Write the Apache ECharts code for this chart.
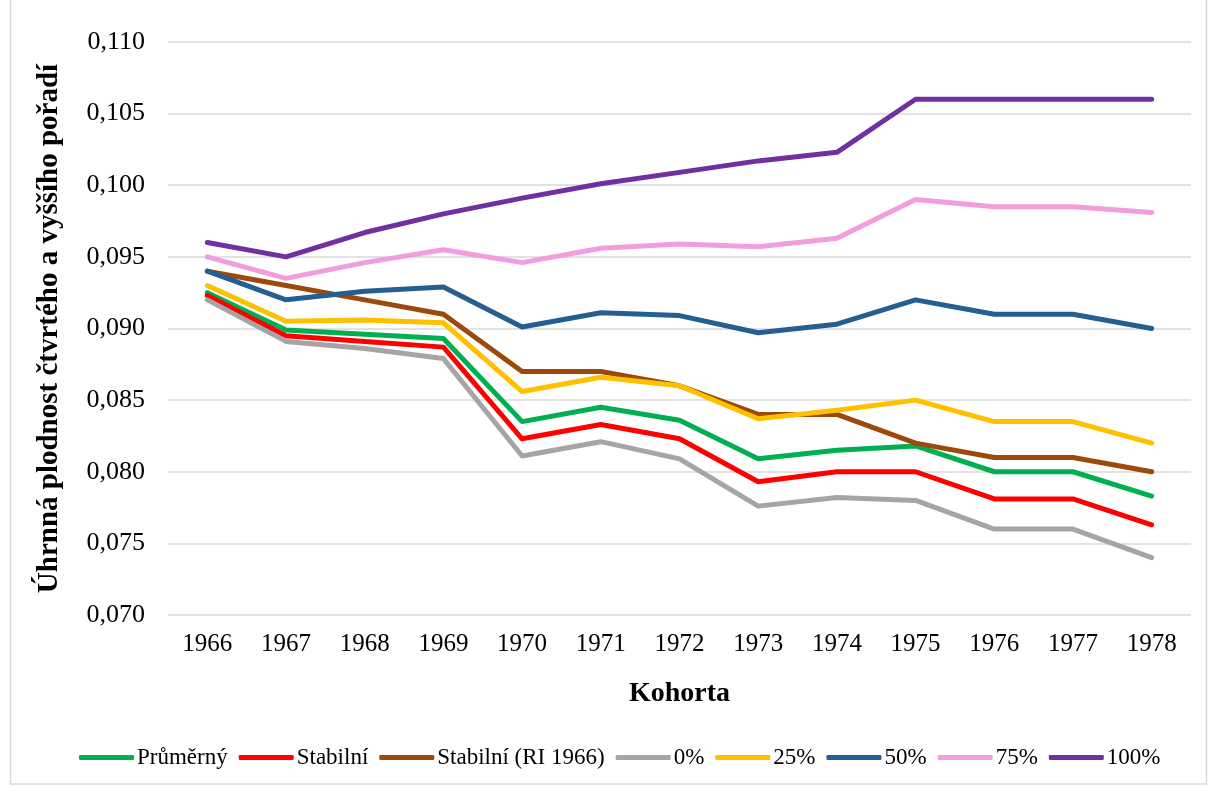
<!DOCTYPE html>
<html>
<head>
<meta charset="utf-8">
<script src="https://cdn.jsdelivr.net/npm/echarts@6/dist/echarts.min.js"></script>
<style>
  html, body { margin: 0; padding: 0; background: #fff; }
  #main { width: 1209px; height: 787px; }
</style>
</head>
<body>
<div id="main"></div>
<script>
// kohorty
var years = ['1966', '1967', '1968', '1969', '1970', '1971', '1972', '1973', '1974', '1975', '1976', '1977', '1978'];

// hodnoty
var prumerny   = [0.0925, 0.0899, 0.0896, 0.0893, 0.0835, 0.0845, 0.0836, 0.0809, 0.0815, 0.0818, 0.0800, 0.0800, 0.0783];
var stabilni   = [0.0923, 0.0895, 0.0891, 0.0887, 0.0823, 0.0833, 0.0823, 0.0793, 0.0800, 0.0800, 0.0781, 0.0781, 0.0763];
var stabilniRI = [0.0940, 0.0930, 0.0920, 0.0910, 0.0870, 0.0870, 0.0860, 0.0840, 0.0840, 0.0820, 0.0810, 0.0810, 0.0800];
var p0         = [0.0920, 0.0891, 0.0886, 0.0879, 0.0811, 0.0821, 0.0809, 0.0776, 0.0782, 0.0780, 0.0760, 0.0760, 0.0740];
var p25        = [0.0930, 0.0905, 0.0906, 0.0904, 0.0856, 0.0866, 0.0860, 0.0837, 0.0843, 0.0850, 0.0835, 0.0835, 0.0820];
var p50        = [0.0940, 0.0920, 0.0926, 0.0929, 0.0901, 0.0911, 0.0909, 0.0897, 0.0903, 0.0920, 0.0910, 0.0910, 0.0900];
var p75        = [0.0950, 0.0935, 0.0946, 0.0955, 0.0946, 0.0956, 0.0959, 0.0957, 0.0963, 0.0990, 0.0985, 0.0985, 0.0981];
var p100       = [0.0960, 0.0950, 0.0967, 0.0980, 0.0991, 0.1001, 0.1009, 0.1017, 0.1023, 0.1060, 0.1060, 0.1060, 0.1060];

var names  = ['Průměrný', 'Stabilní', 'Stabilní (RI 1966)', '0%', '25%', '50%', '75%', '100%'];
var colors = ['#00b050', '#ff0000', '#9c4a0c', '#a5a5a5', '#ffc000', '#255e91', '#f19ee0', '#7030a0'];
var values = [prumerny, stabilni, stabilniRI, p0, p25, p50, p75, p100];

var font = '"Liberation Serif", "Times New Roman", serif';

var series = [];
for (var i = 0; i < names.length; i++) {
    series.push({
        name: names[i],
        type: 'line',
        data: values[i],
        symbol: 'none',
        color: colors[i],
        lineStyle: { width: 5, color: colors[i], cap: 'round', join: 'round' },
        z: 2 + i
    });
}

var myChart = echarts.init(document.getElementById('main'));
var option = {
    backgroundColor: '#fff',
    animation: false,
    textStyle: { fontFamily: font, color: '#000' },
    graphic: [{
        type: 'rect',
        shape: { x: 10.5, y: -2, width: 1196, height: 786 },
        style: { fill: 'none', stroke: '#d9d9d9', lineWidth: 1.5 },
        silent: true
    }],
    grid: { left: 168, right: 18, top: 42, bottom: 172, containLabel: false },
    legend: {
        top: 741,
        left: 74,
        itemWidth: 55,
        itemHeight: 5,
        itemGap: 11,
        icon: 'roundRect',
        textStyle: { fontFamily: font, fontSize: 23, color: '#000', padding: [0, 0, 0, -2] },
        data: names
    },
    xAxis: {
        type: 'category',
        data: years,
        boundaryGap: true,
        name: 'Kohorta',
        nameLocation: 'middle',
        nameGap: 65,
        nameTextStyle: { fontFamily: font, fontSize: 28, fontWeight: 'bold', color: '#000' },
        axisLine: { show: false },
        axisTick: { show: false },
        axisLabel: { fontFamily: font, fontSize: 25, color: '#000', margin: 17 }
    },
    yAxis: {
        type: 'value',
        min: 0.070,
        max: 0.110,
        interval: 0.005,
        name: 'Úhrnná plodnost čtvrtého a vyššího pořadí',
        nameLocation: 'middle',
        nameGap: 104,
        nameTextStyle: { fontFamily: font, fontSize: 29, fontWeight: 'bold', color: '#000' },
        axisLine: { show: false },
        axisTick: { show: false },
        splitLine: { lineStyle: { color: '#d9d9d9', width: 1.5 } },
        axisLabel: {
            fontFamily: font, fontSize: 26, color: '#000', margin: 23,
            formatter: function (v) { return v.toFixed(3).replace('.', ','); }
        }
    },
    series: series
};
myChart.setOption(option);
</script>
</body>
</html>
